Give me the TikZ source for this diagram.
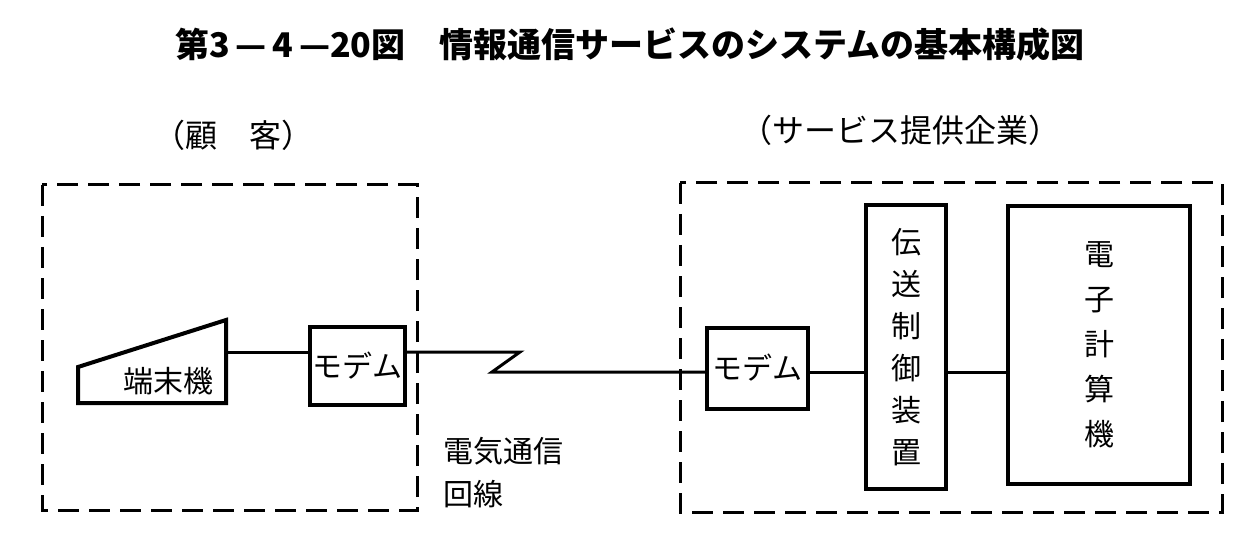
\documentclass[tikz,border=0pt]{standalone}
\usepackage{fontspec}
\setmainfont{Noto Sans CJK JP}
\usetikzlibrary{positioning}
\newcommand{\midashi}{\bfseries\fontsize{17}{20}\selectfont}
\newcommand{\honbun}{\fontsize{15}{18}\selectfont}

\begin{document}
\begin{tikzpicture}[x=0.5pt, y=-0.5pt,
    waku/.style={draw, line width=1.5pt, dash pattern=on 10.5pt off 5pt},
    hako/.style={draw, line width=2pt, inner sep=0pt, align=center, font=\honbun},
    sen/.style={line width=1.5pt}
  ]
    \useasboundingbox (0,0) rectangle (1241,545);

    % title and headings
    \node[font=\midashi] (title) at (630,45) {第3\,—\,4\,—20図\quad 情報通信サービスのシステムの基本構成図};
    \node[font=\fontsize{16}{18}\selectfont] (kokyaku) at (233,135) {（顧\quad 客）};
    \node[font=\fontsize{16}{18}\selectfont] (kigyou) at (900,130) {（サービス提供企業）};

    % dashed frames
    \draw[waku] (42,185) rectangle (417,510);
    \draw[waku] (680,183) rectangle (1222,512);

    % customer side
    \draw[line width=2pt, line join=miter] (78,367) -- (226,320) -- (226,403) -- (78,403) -- cycle;
    \node[font=\honbun] (tanmatsu) at (168,381) {端末機};
    \coordinate (tanout) at (226,352);
    \node[hako, minimum width=47.5pt, minimum height=39pt] (modemL) at (357.5,366) {モデム};

    % company side
    \node[hako, minimum width=50.5pt, minimum height=40.5pt] (modemR) at (757.5,368) {モデム};
    \node[hako, minimum width=40pt, minimum height=142pt,
      font=\fontsize{15}{21}\selectfont] (seigyo) at (906,347) {伝\\送\\制\\御\\装\\置};
    \node[hako, minimum width=91pt, minimum height=139pt,
      font=\fontsize{15}{22.5}\selectfont] (keisanki) at (1099,345) {電\\子\\計\\算\\機};

    % line
    \coordinate (zigA) at (520,352);
    \coordinate (zigB) at (492,372);
    \node[font=\honbun, align=left, anchor=north west,
      font=\fontsize{15}{21.5}\selectfont] (kaisen) at (436,430) {電気通信\\回線};

    \draw[sen] (tanout) -- (tanout -| modemL.west);
    \draw[sen] (modemL.east |- tanout) -- (zigA) -- (zigB) -- (zigB -| modemR.west);
    \draw[sen] (modemR.east |- zigB) -- (zigB -| seigyo.west);
    \draw[sen] (seigyo.east |- zigB) -- (zigB -| keisanki.west);
  \end{tikzpicture}
\end{document}
